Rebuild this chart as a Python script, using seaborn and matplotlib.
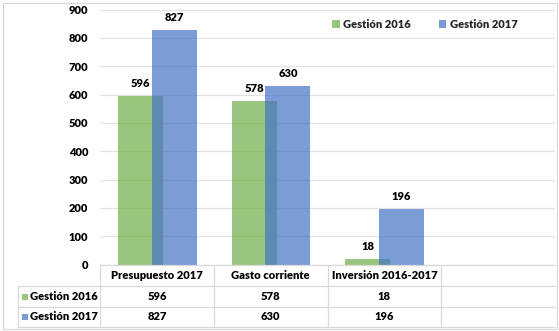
import numpy as np
import pandas as pd
import matplotlib
matplotlib.use("Agg")
import matplotlib.pyplot as plt
import seaborn as sns
from matplotlib.lines import Line2D

categories = ["Presupuesto 2017", "Gasto corriente", "Inversión 2016-2017"]
series_names = ["Gestión 2016", "Gestión 2017"]
gestion_2016 = [596, 578, 18]
gestion_2017 = [827, 630, 196]
yticks = [0, 100, 200, 300, 400, 500, 600, 700, 800, 900]

sns.set_theme(style="white")
plt.rcParams["font.family"] = ["Lato", "DejaVu Sans"]
plt.rcParams["font.weight"] = "heavy"

W, H = 559, 331
fig = plt.figure(figsize=(W / 100, H / 100), dpi=100)
fig.patch.set_facecolor("white")

def fx(x):
    return x / W

def fy(y):
    return 1 - y / H

L, R, T, B = 100, 555, 9.5, 264.5
ax = fig.add_axes([fx(L), fy(B), fx(R - L), (B - T) / H])

green = "#70AD47"
blue = "#4472C4"
alpha = 0.7
fs = 8
fw = "heavy"

idx = np.arange(len(categories))
df16 = pd.DataFrame({"x": idx - 0.145, "y": gestion_2016})
df17 = pd.DataFrame({"x": idx + 0.152, "y": gestion_2017})

sns.barplot(data=df16, x="x", y="y", native_scale=True, orient="x", width=0.395,
            color=green, saturation=1, alpha=alpha, ax=ax, errorbar=None, linewidth=0)
sns.barplot(data=df17, x="x", y="y", native_scale=True, orient="x", width=0.395,
            color=blue, saturation=1, alpha=alpha, ax=ax, errorbar=None, linewidth=0)

for cont in ax.containers:
    ax.bar_label(cont, padding=5, fontsize=fs, fontweight=fw, color="black")

ax.set_xlim(-0.5, 3.5)
ax.set_ylim(0, 900)
ax.set_yticks(yticks)
ax.set_yticklabels([str(v) for v in yticks], fontsize=fs, fontweight=fw, color="black")
ax.set_xticks([])
ax.set_xlabel("")
ax.set_ylabel("")
ax.tick_params(axis="y", length=0, pad=8.5)
for s in ax.spines.values():
    s.set_visible(False)
ax.grid(axis="y", color="#E3E3E3", linewidth=0.9)
ax.set_axisbelow(True)

handles = [plt.Rectangle((0, 0), 1, 1, color=green, alpha=alpha, lw=0),
           plt.Rectangle((0, 0), 1, 1, color=blue, alpha=alpha, lw=0)]
leg = fig.legend(handles, series_names, loc="center left", bbox_to_anchor=(fx(332), fy(24)),
                 ncol=2, frameon=False, fontsize=fs, handlelength=0.7, handleheight=0.7,
                 handletextpad=0.3, columnspacing=2.5, borderaxespad=0, borderpad=0)
for t in leg.get_texts():
    t.set_fontweight(fw)

lc = "#D9D9D9"
def hline(y, x0, x1):
    fig.add_artist(Line2D([fx(x0), fx(x1)], [fy(y), fy(y)], color=lc, lw=0.9, transform=fig.transFigure))

def vline(x, y0, y1):
    fig.add_artist(Line2D([fx(x), fx(x)], [fy(y0), fy(y1)], color=lc, lw=0.9, transform=fig.transFigure))

row_y = [264.7, 286.0, 307.3, 326.7]
col_x = [L + i * (R - L) / 4 for i in range(5)]
left_x = 17.5
hline(row_y[0], L, R)
hline(row_y[1], left_x, R)
hline(row_y[2], left_x, R)
hline(row_y[3], left_x, R)
vline(left_x, row_y[1], row_y[3])
for x in col_x[:4]:
    vline(x, row_y[0], row_y[3])

for i, c in enumerate(categories):
    cx = (col_x[i] + col_x[i + 1]) / 2
    fig.text(fx(cx), fy((row_y[0] + row_y[1]) / 2), c, ha="center", va="center",
             fontsize=fs, fontweight=fw, color="black")
    fig.text(fx(cx), fy((row_y[1] + row_y[2]) / 2), str(gestion_2016[i]), ha="center", va="center",
             fontsize=fs, fontweight=fw, color="black")
    fig.text(fx(cx), fy((row_y[2] + row_y[3]) / 2), str(gestion_2017[i]), ha="center", va="center",
             fontsize=fs, fontweight=fw, color="black")

for r, (name, col) in enumerate(zip(series_names, [green, blue])):
    yc = (row_y[r + 1] + row_y[r + 2]) / 2
    fig.add_artist(plt.Rectangle((fx(22), fy(yc + 3)), fx(6), 6 / H, color=col, alpha=alpha, lw=0,
                                 transform=fig.transFigure))
    fig.text(fx(30.5), fy(yc), name, ha="left", va="center", fontsize=fs, fontweight=fw, color="black")

fig.add_artist(plt.Rectangle((fx(2.5), fy(329)), fx(554), 326.5 / H, fill=False, edgecolor="#D9D9D9",
                             lw=0.9, transform=fig.transFigure))

fig.savefig("out.png", dpi=100, facecolor="white")
